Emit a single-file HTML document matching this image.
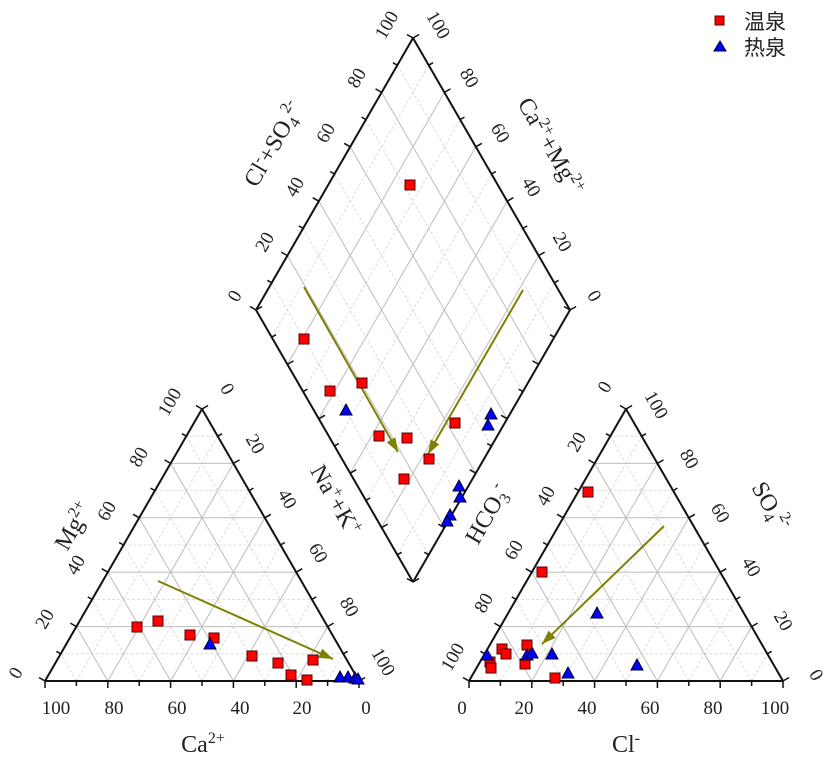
<!DOCTYPE html>
<html><head><meta charset="utf-8"><style>
body{margin:0;background:#fff;}
svg{display:block;font-family:"Liberation Serif","Noto Serif CJK SC",serif;}
.t{font-size:19px;fill:#222;}
.ti{font-size:24px;fill:#222;}
</style></head><body>
<svg id="s" width="827" height="760" viewBox="0 0 827 760" xmlns="http://www.w3.org/2000/svg">
<g id="grid"></g>
<g id="ax"></g>
<g class="t" text-anchor="middle">
<text x="56" y="714">100</text><text x="114" y="714">80</text><text x="177" y="714">60</text><text x="240" y="714">40</text><text x="302" y="714">20</text><text x="366" y="714">0</text>
<text transform="translate(21,676) rotate(-60)">0</text>
<text transform="translate(50,622) rotate(-60)">20</text>
<text transform="translate(81,568) rotate(-60)">40</text>
<text transform="translate(112,514) rotate(-60)">60</text>
<text transform="translate(144,460) rotate(-60)">80</text>
<text transform="translate(175,405) rotate(-60)">100</text>
<text transform="translate(222,392) rotate(60)">0</text>
<text transform="translate(250,447) rotate(60)">20</text>
<text transform="translate(282,502) rotate(60)">40</text>
<text transform="translate(313,556) rotate(60)">60</text>
<text transform="translate(344,610) rotate(60)">80</text>
<text transform="translate(378,665) rotate(60)">100</text>
<text x="462" y="714">0</text><text x="524" y="714">20</text><text x="587" y="714">40</text><text x="650" y="714">60</text><text x="713" y="714">80</text><text x="775" y="714">100</text>
<text transform="translate(458,660) rotate(-60)">100</text>
<text transform="translate(489,606) rotate(-60)">80</text>
<text transform="translate(519,553) rotate(-60)">60</text>
<text transform="translate(551,499) rotate(-60)">40</text>
<text transform="translate(582,445) rotate(-60)">20</text>
<text transform="translate(610,390) rotate(-60)">0</text>
<text transform="translate(651,408) rotate(60)">100</text>
<text transform="translate(684,462) rotate(60)">80</text>
<text transform="translate(715,516) rotate(60)">60</text>
<text transform="translate(746,570) rotate(60)">40</text>
<text transform="translate(778,624) rotate(60)">20</text>
<text transform="translate(811,678) rotate(60)">0</text>
<text transform="translate(240,299) rotate(-60)">0</text>
<text transform="translate(270,245) rotate(-60)">20</text>
<text transform="translate(300,190) rotate(-60)">40</text>
<text transform="translate(331,136) rotate(-60)">60</text>
<text transform="translate(362,81) rotate(-60)">80</text>
<text transform="translate(392,28) rotate(-60)">100</text>
<text transform="translate(433,28) rotate(60)">100</text>
<text transform="translate(464,81) rotate(60)">80</text>
<text transform="translate(495,136) rotate(60)">60</text>
<text transform="translate(526,190) rotate(60)">40</text>
<text transform="translate(557,245) rotate(60)">20</text>
<text transform="translate(589,299) rotate(60)">0</text>
</g>
<g class="ti" text-anchor="middle">
<text transform="translate(280,148) rotate(-60)">Cl<tspan dy="-9" font-size="16">-</tspan><tspan dy="9">+SO</tspan><tspan dy="5" font-size="16">4</tspan><tspan dy="-15" font-size="16">2-</tspan></text>
<text transform="translate(544,150) rotate(60)">Ca<tspan dy="-9" font-size="16">2+</tspan><tspan dy="9">+Mg</tspan><tspan dy="-9" font-size="16">2+</tspan></text>
<text transform="translate(80,530) rotate(-60)">Mg<tspan dy="-9" font-size="16">2+</tspan></text>
<text transform="translate(329,504) rotate(60)">Na<tspan dy="-9" font-size="16">+</tspan><tspan dy="9">+K</tspan><tspan dy="-9" font-size="16">+</tspan></text>
<text x="203" y="752">Ca<tspan dy="-9" font-size="16">2+</tspan></text>
<text transform="translate(494,518) rotate(-60)">HCO<tspan dy="5" font-size="16">3</tspan><tspan dy="-15" font-size="16">-</tspan></text>
<text transform="translate(764,510) rotate(60)">SO<tspan dy="5" font-size="16">4</tspan><tspan dy="-15" font-size="16">2-</tspan></text>
<text x="626" y="752">Cl<tspan dy="-9" font-size="16">-</tspan></text>
</g>
<g id="arr" stroke="#808000" stroke-width="2" fill="#808000"></g>
<g id="pts"></g>
<rect x="715" y="16" width="9" height="9" fill="#f00" stroke="#600" stroke-width="1"/>
<polygon points="714,51 720,41 726,51" fill="#00f" stroke="#003"/>
<text x="744" y="29" style="font-size:21px;font-family:'Noto Sans CJK SC',sans-serif" fill="#222">温泉</text>
<text x="744" y="55" style="font-size:21px;font-family:'Noto Sans CJK SC',sans-serif" fill="#222">热泉</text>
</svg>
<script>
var NS="http://www.w3.org/2000/svg";
function el(p,n,a){var e=document.createElementNS(NS,n);for(var k in a)e.setAttribute(k,a[k]);document.getElementById(p).appendChild(e);return e;}
function L(p,a,b,st){var o={x1:a[0],y1:a[1],x2:b[0],y2:b[1]};for(var k in st)o[k]=st[k];el(p,"line",o);}
function lerp(a,b,t){return [a[0]+(b[0]-a[0])*t,a[1]+(b[1]-a[1])*t];}
var solid={stroke:"#bdbdbd","stroke-width":1},dash={stroke:"#d3d3d3","stroke-width":0.8,"stroke-dasharray":"3,2"};
function tri(A,B,C){
 for(var i=1;i<10;i++){var t=i/10,s=i%2?dash:solid;
  L("grid",lerp(A,C,t),lerp(B,C,t),s);
  L("grid",lerp(A,B,t),lerp(A,C,t),s);
  L("grid",lerp(B,A,t),lerp(B,C,t),s);}
 var c=[(A[0]+B[0]+C[0])/3,(A[1]+B[1]+C[1])/3];
 edge(A,B,c,1);edge(B,C,c,1);edge(C,A,c,1);
}
function edge(P,Q,c,out){
 L("ax",P,Q,{stroke:"#111","stroke-width":2});
 var dx=Q[0]-P[0],dy=Q[1]-P[1],len=Math.hypot(dx,dy),nx=-dy/len,ny=dx/len;
 var m=lerp(P,Q,.5);if((m[0]-c[0])*nx+(m[1]-c[1])*ny<0){nx=-nx;ny=-ny;}
 if(!out){nx=-nx;ny=-ny;}
 for(var i=0;i<=10;i++){var p=lerp(P,Q,i/10),l=i%2?5:7;L("ax",p,[p[0]+nx*l,p[1]+ny*l],{stroke:"#111","stroke-width":1.5});}
}
tri([45,681],[359,681],[202,409]);
tri([469,681],[783,681],[626,409]);
var Lf=[256,310],T=[413,38],R=[570,310],Bm=[413,582],c=[413,310];
for(var i=1;i<10;i++){var t=i/10,s=i%2?dash:solid;
 L("grid",lerp(Lf,Bm,t),lerp(T,R,t),s);
 L("grid",lerp(T,Lf,t),lerp(R,Bm,t),s);}
edge(Lf,T,c,1);edge(T,R,c,1);edge(R,Bm,c,0);edge(Bm,Lf,c,0);
function arrow(a,b){L("arr",a,b,{});var dx=b[0]-a[0],dy=b[1]-a[1],l=Math.hypot(dx,dy);dx/=l;dy/=l;
 var p=[b[0]-dx*14,b[1]-dy*14];el("arr","polygon",{points:b[0]+","+b[1]+" "+(p[0]-dy*5)+","+(p[1]+dx*5)+" "+(p[0]+dy*5)+","+(p[1]-dx*5),stroke:"none"});}
arrow([158,581],[333,659]);arrow([304,287],[398,452]);arrow([523,290],[428,454]);arrow([664,526],[542,644]);
var red=[[137,627],[158,621],[190,635],[214,638],[252,656],[278,663],[291,675],[307,680],[313,660],
[410,185],[304,339],[330,391],[362,383],[379,436],[407,438],[455,423],[429,459],[404,479],
[588,492],[542,572],[527,645],[502,649],[506,654],[490,662],[491,668],[525,664],[555,678]];
var blue=[[210,644],[340,677],[348,677],[355,678],[358,679],
[346,410],[491,414],[488,425],[459,486],[460,497],[450,515],[447,521],
[597,613],[637,665],[487,655],[527,655],[532,653],[552,654],[568,673]];
red.forEach(function(p){el("pts","rect",{x:p[0]-5,y:p[1]-5,width:10,height:10,fill:"#f00",stroke:"#500","stroke-width":1});});
blue.forEach(function(p){el("pts","polygon",{points:(p[0]-6)+","+(p[1]+5)+" "+p[0]+","+(p[1]-6)+" "+(p[0]+6)+","+(p[1]+5),fill:"#00f",stroke:"#002","stroke-width":1});});
</script>
</body></html>
